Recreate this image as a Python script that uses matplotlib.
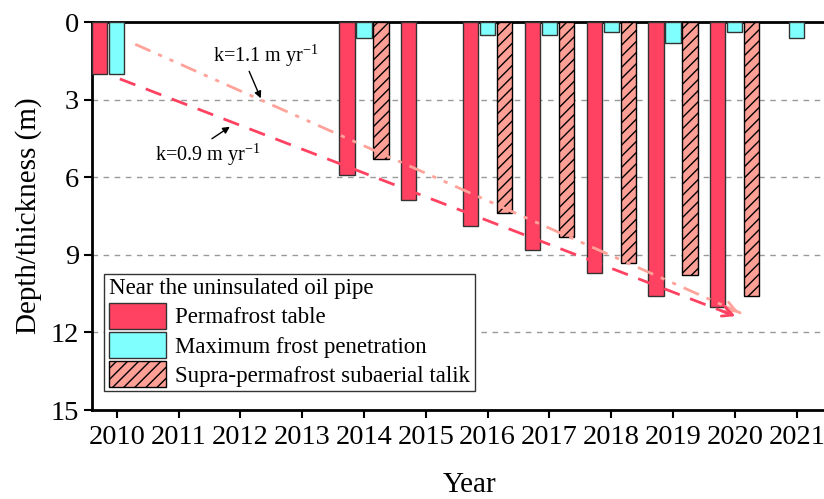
import matplotlib
matplotlib.use("Agg")
import matplotlib.pyplot as plt
import numpy as np

plt.rcParams['font.family'] = ['Liberation Serif', 'DejaVu Serif']
plt.rcParams['mathtext.fontset'] = 'custom'
plt.rcParams['mathtext.rm'] = 'Liberation Serif'
plt.rcParams['hatch.linewidth'] = 1.0

nan = np.nan
# dados (profundidade em m)
anos = np.arange(2010, 2022)
permafrost_table = [2.0, nan, nan, nan, 5.9, 6.9, 7.9, 8.8, 9.7, 10.6, 11.0, nan]
max_frost = [2.0, nan, nan, nan, 0.6, nan, 0.5, 0.5, 0.4, 0.8, 0.4, 0.6]
talik = [nan, nan, nan, nan, 5.3, nan, 7.4, 8.3, 9.3, 9.8, 10.6, nan]

# linhas de tendencia (inicio, fim)
tend_11_x = [2010.30, 2020.10]
tend_11_y = [0.86, 11.26]
tend_09_x = [2010.05, 2020.05]
tend_09_y = [2.20, 11.41]

cor_vermelho = '#FF4262'
cor_ciano = '#80FFFF'
cor_salmao = '#FFA096'
cor_linha_clara = '#FFA39A'

fig = plt.figure(figsize=(8.24, 4.99), dpi=100)
ax = fig.add_axes([92 / 824, 1 - 410 / 499, (848 - 92) / 824, 388 / 499])

w = 0.245
off = 0.275
ax.bar(anos - off, permafrost_table, width=w, color=cor_vermelho, edgecolor='#333333',
       linewidth=1, zorder=3, label='Permafrost table')
ax.bar(anos, max_frost, width=w, color=cor_ciano, edgecolor='#333333',
       linewidth=1, zorder=3, label='Maximum frost penetration')
ax.bar(anos + off, talik, width=w, color=cor_salmao, edgecolor='black', hatch='///',
       linewidth=1, zorder=3, label='Supra-permafrost subaerial talik')

# tendencias
ax.plot(tend_11_x, tend_11_y, color=cor_linha_clara, lw=2, dashes=(6, 3, 1.5, 3, 1.5, 3), zorder=4)
ax.plot(tend_09_x, tend_09_y, color=cor_vermelho, lw=2, dashes=(6, 4), zorder=4)
for xs, ys, c in [(tend_11_x, tend_11_y, cor_linha_clara), (tend_09_x, tend_09_y, cor_vermelho)]:
    dx, dy = xs[1] - xs[0], ys[1] - ys[0]
    ax.annotate('', xy=(xs[1], ys[1]), xytext=(xs[1] - dx * 0.03, ys[1] - dy * 0.03),
                arrowprops=dict(arrowstyle='->', color=c, lw=2, mutation_scale=18), zorder=5)

ax.annotate('k=1.1 m yr$^{-1}$', xy=(2012.33, 2.95), xytext=(2011.56, 1.28),
            fontsize=14.5, va='center', ha='left',
            arrowprops=dict(arrowstyle='-|>', color='black', lw=1, mutation_scale=10,
                            shrinkA=0, shrinkB=0, relpos=(0.33, 0.0)))
ax.annotate('k=0.9 m yr$^{-1}$', xy=(2011.83, 4.05), xytext=(2010.62, 5.14),
            fontsize=14.5, va='center', ha='left',
            arrowprops=dict(arrowstyle='-|>', color='black', lw=1, mutation_scale=10,
                            shrinkA=0, shrinkB=0, relpos=(0.5, 1.0)))

ax.set_xlim(2009.6, 2021.83)
ax.set_ylim(15, 0)
ax.set_yticks([0, 3, 6, 9, 12, 15])
ax.set_xticks(anos)
ax.tick_params(axis='both', labelsize=20.5, width=1.5, length=6, direction='out')
ax.tick_params(axis='x', pad=5)
for y in [3, 6, 9, 12]:
    ax.axhline(y, color='#999999', lw=1, dashes=(4, 4), zorder=1)

for s in ['top', 'left', 'bottom']:
    ax.spines[s].set_linewidth(2)
ax.spines['right'].set_visible(False)

ax.set_ylabel('Depth/thickness (m)', fontsize=21, labelpad=6)
ax.set_xlabel('Year', fontsize=21, labelpad=16)

leg = ax.legend(title='Near the uninsulated oil pipe', loc='upper left',
                bbox_to_anchor=(0.016, 0.351), borderaxespad=0, fontsize=16.5,
                title_fontsize=16.5, alignment='left', fancybox=False,
                edgecolor='#333333', framealpha=1, handlelength=2.5, handleheight=1.35,
                labelspacing=0.15, borderpad=0.2, handletextpad=0.4)
leg.get_frame().set_linewidth(1)
leg.set_zorder(6)

fig.savefig('out.png', dpi=100)
